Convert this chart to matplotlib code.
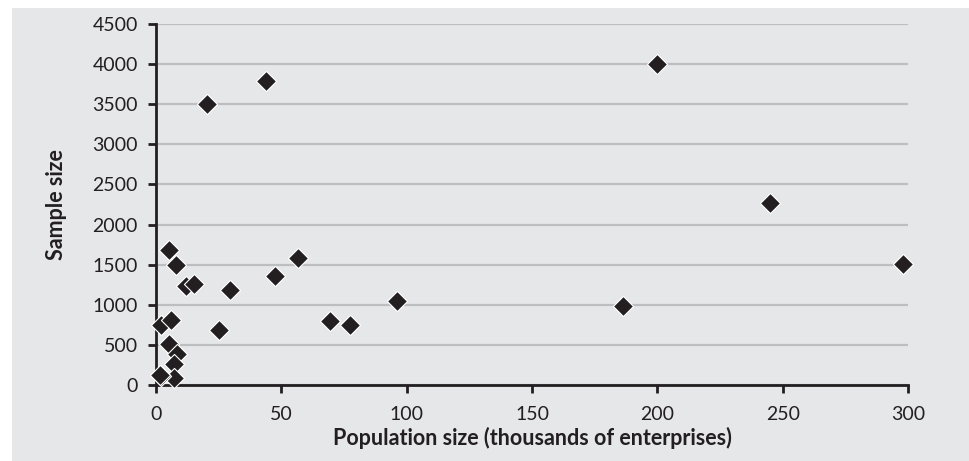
import matplotlib.pyplot as plt
from matplotlib.patches import Rectangle

# population size (thousands of enterprises) and sample size
population = [200, 44, 20.5, 245, 298, 186.5, 96, 56.5, 47.5, 29.5,
              69.5, 77.5, 25, 5, 8, 12, 15, 2, 6, 5, 8.5, 7, 7, 2, 1.5]
sample = [4000, 3790, 3500, 2265, 1510, 990, 1050, 1585, 1360, 1190,
          795, 745, 690, 1680, 1500, 1240, 1265, 745, 810, 510, 390, 260, 90, 115, 130]

x_ticks = [0, 50, 100, 150, 200, 250, 300]
y_ticks = [0, 500, 1000, 1500, 2000, 2500, 3000, 3500, 4000, 4500]

BG = "#e6e7e9"
INK = "#231f20"

plt.rcParams["font.family"] = ["Lato", "DejaVu Sans"]

fig = plt.figure(figsize=(9.69, 4.61), dpi=100)
fig.patch.set_facecolor("white")
fig.patches.append(Rectangle((12 / 969, 0), 1, 453 / 461, transform=fig.transFigure,
                             facecolor=BG, edgecolor="none", zorder=-10))

ax = fig.add_axes([156 / 969, 76 / 461, 752 / 969, 361 / 461])
ax.set_zorder(5)
ax.set_facecolor(BG)

ax.scatter(population, sample, marker="D", s=105, color=INK,
           edgecolor="white", linewidth=0.8, zorder=3, clip_on=False)

ax.set_xlim(0, 300)
ax.set_ylim(0, 4500)
ax.set_xticks(x_ticks)
ax.set_yticks(y_ticks)
ax.yaxis.grid(True, color="#bcbec0", linewidth=1.6)
ax.set_axisbelow(True)

for side in ["top", "right"]:
    ax.spines[side].set_visible(False)
for side in ["left", "bottom"]:
    ax.spines[side].set_color(INK)
    ax.spines[side].set_linewidth(2)

ax.tick_params(axis="both", direction="out", length=6, width=2, color=INK,
               labelsize=14, labelcolor=INK)
ax.tick_params(axis="x", pad=9)
ax.tick_params(axis="y", pad=7)

ax.set_xlabel("Population size (thousands of enterprises)", fontsize=15.5,
              fontweight="bold", color=INK, labelpad=3)
ax.set_ylabel("Sample size", fontsize=15.5, fontweight="bold", color=INK, labelpad=18)

fig.savefig("out.png", dpi=100, facecolor=fig.get_facecolor())
